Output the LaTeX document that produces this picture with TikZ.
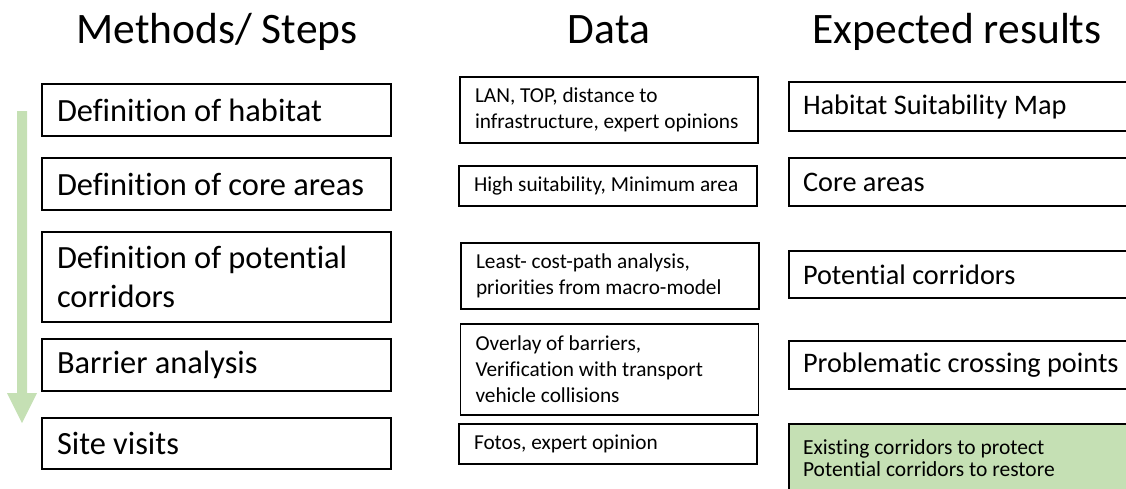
\documentclass[tikz,border=0pt]{standalone}
\usepackage{fontspec}
\setmainfont{Carlito}[Ligatures={NoCommon}]
\definecolor{softgreen}{HTML}{C5E0B4}
\begin{document}
\begin{tikzpicture}[x=1pt,y=-1pt,
  heading/.style={anchor=base, inner sep=0pt, font=\fontsize{43.5}{52}\selectfont},
  box/.style={draw=black, line width=1.2pt, inner xsep=15pt, inner ysep=1pt, align=flush left, text=black},
  stepbox/.style={box, text width=319pt, font=\fontsize{32.4}{39}\selectfont},
  databox/.style={box, text width=268pt, minimum height=40pt, font=\fontsize{21.3}{26}\selectfont},
  resbox/.style={box, inner xsep=14pt, text width=343pt, font=\fontsize{28.3}{33}\selectfont},
  finalbox/.style={resbox, fill=softgreen, font=\fontsize{21.5}{22.5}\selectfont}]
\useasboundingbox (0,0) rectangle (1126,488);
\clip (0,0) rectangle (1126,488);

% column headings
\node[heading] (hsteps) at (217,43) {Methods/ Steps};
\node[heading] (hdata) at (609,43) {Data};
\node[heading] (hres) at (957,43) {Expected results};

% progress arrow beside the steps
\fill[softgreen] (17,111) -- (27,111) -- (27,393) -- (37,393) -- (22,423)
  -- (7,393) -- (17,393) -- cycle;

% methods / steps
\node[stepbox, minimum height=52pt] (s1) at (216.5,110) {Definition of habitat};
\node[stepbox, minimum height=52pt] (s2) at (216.5,184) {Definition of core areas};
\node[stepbox, minimum height=90pt] (s3) at (216.5,277) {Definition of potential\\corridors};
\node[stepbox, minimum height=52pt] (s4) at (216.5,365) {Barrier analysis};
\node[stepbox, minimum height=51pt] (s5) at (216.5,443.5) {Site visits};

% data
\node[databox, minimum height=66pt] (d1) at (609,110) {LAN, TOP, distance to\\infrastructure, expert opinions};
\node[databox] (d2) at (608,186) {High suitability, Minimum area};
\node[databox, minimum height=66pt] (d3) at (610,276) {Least- cost-path analysis,\\priorities from macro-model};
\node[databox, minimum height=91pt] (d4) at (609.5,369.5) {Overlay of barriers,\\Verification with transport\\vehicle collisions};
\node[databox] (d5) at (608,444) {Fotos, expert opinion};

% expected results
\node[resbox, minimum height=49pt] (r1) at (974.5,106.5) {Habitat Suitability Map};
\node[resbox, minimum height=48pt] (r2) at (974.5,182) {Core areas};
\node[resbox, minimum height=47pt] (r3) at (974.5,274.5) {Potential corridors};
\node[resbox, minimum height=48pt] (r4) at (974.5,365) {Problematic crossing points};
\node[finalbox, minimum height=68pt] (r5) at (974.5,458) {Existing corridors to protect\\Potential corridors to restore};
\end{tikzpicture}
\end{document}
